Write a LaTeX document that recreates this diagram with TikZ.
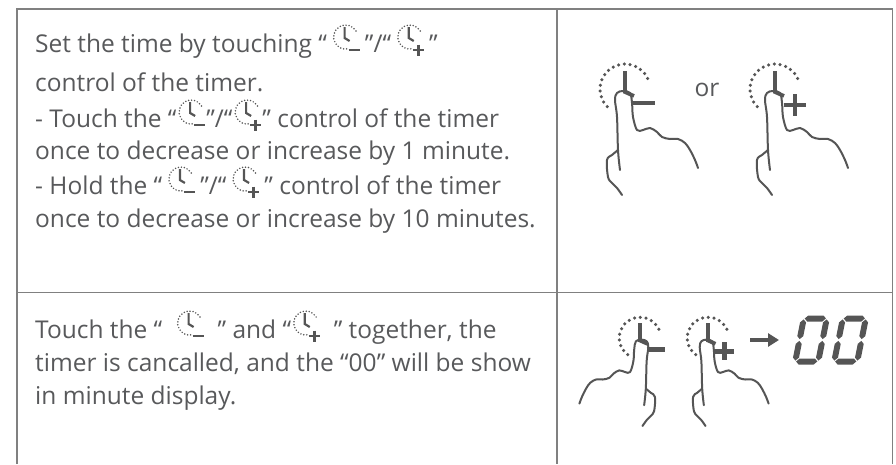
\documentclass[tikz,border=0pt]{standalone}
\usepackage{fontspec}
\setmainfont{Open Sans}
\usetikzlibrary{arrows.meta}
\definecolor{txtgray}{HTML}{58595B}
\definecolor{rulegray}{HTML}{808080}
\definecolor{inkgray}{HTML}{555555}

% small timer keys set inside the text
\newcommand{\tmrdial}{%
  \draw[inkgray, line width=1.7pt, line cap=round, dash pattern=on 0pt off 3pt]
    (13,-15) ++(-30:12) arc[start angle=-30, end angle=-280, radius=12];
  \draw[inkgray, line width=2.2pt] (12,-25) -- (12,-14) -- (17,-11);}
\newcommand{\tmrminus}{\tikz[baseline=0pt, x=1pt, y=-1pt]{\tmrdial
  \draw[inkgray, line width=2.6pt] (16,-2) -- (27,-2);}}
\newcommand{\tmrplus}{\tikz[baseline=0pt, x=1pt, y=-1pt]{\tmrdial
  \draw[inkgray, line width=2.6pt] (16,-2) -- (27,-2) (21.5,-7.5) -- (21.5,3.5);}}

\begin{document}
\begin{tikzpicture}[x=1pt, y=-1pt,
  txt/.style={anchor=base west, inner sep=0pt, text=txtgray, font=\fontsize{24.5}{29}\selectfont},
  rule/.style={draw=rulegray, line width=1.5pt},
  handline/.style={draw=inkgray, line width=2pt, line cap=round, line join=round},
  dotarc/.style={draw=inkgray, line width=3.5pt, line cap=round, dash pattern=on 0pt off 5.8pt},
  clockhand/.style={draw=inkgray, line width=3.8pt},
  signbar/.style={draw=inkgray, line width=4.5pt},
  pics/dial/.style={code={
    \draw[dotarc] (-25:25) arc[start angle=-25, end angle=-235, radius=25];}},
  pics/hand/.style={code={
    \fill[white] plot[smooth, tension=.6] coordinates {(-5,81) (-7,61) (-8,28) (-10,11) (-8,4) (-2,2) (5,4) (7,14) (8,28) (12,41)} -- cycle;
    \draw[handline] plot[smooth, tension=.6] coordinates {(-5,81) (-7,61) (-8,28) (-10,11) (-8,4) (-2,2) (5,4) (7,14) (8,28) (12,41) (18,41) (25,39) (32,43) (37,48) (45,50) (53,50) (60,54) (65,61) (70,71) (73,79)};
    \draw[handline] plot[smooth, tension=.6] coordinates {(-7,61) (-13,66) (-18,71) (-17,88) (-13,94) (-8,99) (-3,106)};}},
  pics/hands/.style={code={\draw[clockhand] (0,-18) -- (0,3) -- (9,7);}},
  pics/minus/.style={code={\draw[signbar] (8,14) -- (30,14);}},
  pics/plus/.style={code={\draw[signbar] (9,16) -- (31,16) (20,5) -- (20,27);}},
  pics/segzero/.style={code={
    \begin{scope}[xslant=0.2]
    \foreach \yy in {-21.5,21.5}
      \fill[inkgray] (-10.6,\yy) -- ++(3,-3) -- (7.6,\yy-3) -- (10.6,\yy) -- ++(-3,3) -- (-7.6,\yy+3) -- cycle;
    \foreach \xx in {-11.5,11.5}
      \foreach \ya/\yb in {-20.6/-0.9, 0.9/20.6}
        \fill[inkgray] (\xx,\ya) -- ++(3,3) -- (\xx+3,\yb-3) -- (\xx,\yb) -- ++(-3,-3) -- (\xx-3,\ya+3) -- cycle;
    \end{scope}}},
]
\useasboundingbox (0,0) rectangle (896,464);

% ─── Table rules ───
\draw[rule] (17,464) -- (17,9) -- (892.5,9) -- (892.5,464);
\draw[rule] (557,9) -- (557,464);
\draw[rule] (17,292.5) -- (892.5,292.5);

% ─── Upper cell: text ───
\node[txt] (s1) at (35,52) {Set the time by touching “\,\tmrminus\,”/“\,\tmrplus\,”};
\node[txt] (s2) at (35,91) {control of the timer.};
\node[txt] (s3) at (35,127) {- Touch the “\tmrminus”/“\tmrplus” control of the timer};
\node[txt] (s4) at (35,159) {once to decrease or increase by 1 minute.};
\node[txt] (s5) at (35,194) {- Hold the “\,\tmrminus\,”/“\,\tmrplus\,” control of the timer};
\node[txt] (s6) at (35,227) {once to decrease or increase by 10 minutes.};

% ─── Upper cell: touch minus or plus ───
\foreach \cx/\sg in {625/minus, 775/plus} {
  \pic at (\cx,89) {dial};
  \pic at (\cx,89) {hand};
  \pic at (\cx,89) {hands};
  \pic at (\cx,89) {\sg};
}
\node[txt, anchor=center] (orword) at (707,90) {or};

% ─── Lower cell: text ───
\node[txt] (c1) at (35,338) {Touch the “\ \ \tmrminus\ \ ” and “\tmrplus\ \ ” together, the};
\node[txt] (c2) at (35,371) {timer is cancalled, and the “00” will be show};
\node[txt] (c3) at (35,404) {in minute display.};

% ─── Lower cell: both keys, then 00 ───
\pic[scale=.83] at (640,338) {dial};
\pic[xscale=-.83, yscale=.83] at (640,338) {hand};
\pic[scale=.83] at (640,338) {hands};
\pic[scale=.83] at (640,338) {minus};
\pic[scale=.83] at (708,338) {dial};
\pic[scale=.83] at (708,338) {hand};
\pic[scale=.83] at (708,338) {hands};
\pic[scale=.83] at (708,338) {plus};

\coordinate (arrtail) at (750,340);
\coordinate (arrhead) at (779,340);
\draw[inkgray, line width=4.5pt, -{Triangle[length=11pt, width=13pt]}] (arrtail) -- (arrhead);

\foreach \dx in {811,850}
  \pic at (\dx,340) {segzero};

\end{tikzpicture}
\end{document}
